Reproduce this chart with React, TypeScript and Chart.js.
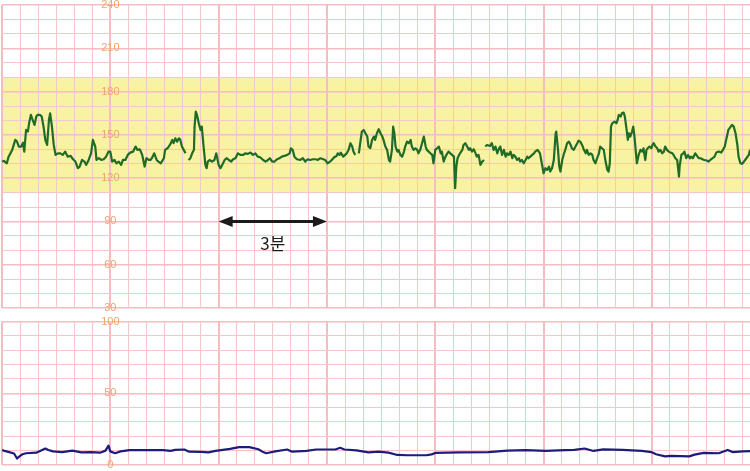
import { useEffect, useRef } from "react";
import { Chart, registerables } from "chart.js";

Chart.register(...registerables);

// ---- data (time in seconds) ----
const timeMax = 1243;

const fhrTrace: [number, number | null][] = [
  [0, 131.5], [3, 131.9], [8, 130.3], [11, 134.9], [17, 139.6], [22, 146.5], [25, 145.3], [28, 141.9], [32, 141.9], [35, 144.6],
  [37, 138.4], [40, 153.4], [43, 152.3], [45, 158.0], [48, 163.8], [51, 160.3], [54, 156.9], [57, 162.7], [59, 163.8], [63, 163.8],
  [66, 162.7], [69, 155.7], [72, 146.5], [75, 143.0], [78, 160.3], [80, 164.9], [83, 155.7], [86, 143.0], [89, 136.1], [93, 137.2],
  [97, 137.2], [101, 136.1], [105, 138.4], [109, 134.9], [114, 135.4], [118, 133.1], [122, 131.5], [126, 126.9], [129, 128.0], [133, 132.6],
  [137, 131.5], [140, 129.2], [144, 132.6], [148, 137.2], [151, 146.5], [155, 141.9], [157, 132.6], [161, 133.8], [165, 132.6], [169, 133.1],
  [173, 134.9], [177, 138.4], [180, 138.4], [183, 131.5], [187, 132.6], [190, 130.3], [194, 131.5], [198, 129.2], [201, 132.6], [205, 132.6],
  [209, 136.1], [213, 137.7], [218, 138.4], [222, 141.9], [225, 139.6], [229, 140.0], [233, 136.1], [237, 128.0], [240, 133.8], [244, 132.6],
  [247, 132.6], [249, 133.8], [253, 137.2], [257, 132.6], [260, 131.5], [264, 130.3], [269, 133.8], [271, 139.6], [275, 140.7], [279, 143.0],
  [283, 146.5], [285, 144.2], [288, 147.6], [291, 145.3], [294, 147.6], [296, 146.9], [299, 141.9], [302, 139.6], [305, 137.2], [307, null],
  [310, 132.6], [313, 133.8], [316, 137.2], [319, 139.6], [320, 155.7], [322, 166.1], [324, 163.8], [327, 158.0], [330, 153.4], [332, 155.7],
  [335, 141.9], [338, 129.2], [340, 126.9], [342, 131.5], [345, 132.6], [349, 131.5], [353, 132.6], [356, 137.2], [360, 129.2], [363, 126.9],
  [366, 129.2], [370, 132.6], [373, 133.8], [377, 132.6], [381, 131.5], [384, 133.1], [388, 133.8], [392, 137.2], [396, 136.1], [401, 136.1],
  [404, 137.2], [408, 136.8], [413, 137.7], [417, 136.1], [421, 137.2], [425, 134.9], [429, 134.5], [434, 132.6], [438, 131.5], [442, 132.6],
  [445, 133.8], [449, 131.5], [453, 131.5], [457, 133.1], [461, 133.8], [465, 134.9], [469, 135.4], [474, 136.1], [478, 137.2], [480, 140.7],
  [483, 139.6], [486, 134.9], [490, 133.1], [496, 132.6], [500, 133.8], [504, 131.5], [508, 133.1], [512, 132.6], [517, 133.1], [521, 133.1],
  [525, 132.6], [529, 133.8], [534, 133.1], [537, 132.6], [541, 130.3], [545, 131.5], [548, 132.6], [552, 134.5], [556, 135.4], [558, 137.2],
  [561, 136.1], [563, 137.7], [567, 134.9], [570, 136.1], [573, 137.2], [576, 139.6], [579, 144.2], [582, 141.9], [584, 138.4], [587, 136.1],
  [590, null], [593, 137.2], [596, 146.5], [598, 152.3], [601, 153.4], [604, 151.1], [607, 148.8], [609, 141.9], [612, 140.7], [615, 146.5],
  [618, 148.8], [620, 146.5], [623, 151.1], [626, 153.9], [629, 151.1], [632, 148.8], [634, 146.5], [637, 141.9], [640, 139.6], [643, 132.6],
  [645, 131.5], [648, 139.6], [650, 155.7], [652, 151.1], [654, 141.9], [657, 138.4], [659, 139.6], [662, 136.1], [665, 134.9], [668, 138.4],
  [670, 141.9], [673, 145.3], [676, 144.2], [679, 146.5], [681, 141.9], [684, 139.6], [687, 140.7], [690, 139.6], [692, 137.2], [695, 139.6],
  [698, 144.2], [701, 148.8], [704, 141.9], [706, 139.6], [709, 138.4], [712, 137.2], [715, 136.1], [717, 130.3], [720, 139.6], [723, 140.7],
  [726, 141.9], [729, 137.2], [731, 138.4], [734, 131.5], [737, 134.9], [740, 137.2], [742, 138.4], [745, 137.2], [748, 136.1], [751, 134.9],
  [753, 113.0], [755, 128.0], [757, 133.8], [761, 137.2], [765, 139.6], [767, 143.0], [770, 144.2], [773, 141.9], [776, 139.6], [778, 140.7],
  [781, 138.4], [784, 140.0], [787, 137.2], [789, 134.9], [792, 136.1], [795, 129.2], [798, 131.5], [801, 132.6], [802, null], [803, 141.9],
  [806, 143.0], [811, 142.3], [814, 144.2], [817, 139.6], [820, 141.9], [823, 137.2], [825, 139.6], [828, 141.9], [831, 136.1], [834, 139.6],
  [837, 134.9], [839, 137.2], [842, 136.1], [845, 138.4], [848, 133.8], [850, 136.1], [853, 134.9], [856, 132.6], [859, 133.8], [861, 131.5],
  [864, 132.6], [867, 130.3], [870, 132.6], [873, 134.9], [875, 133.8], [878, 134.9], [881, 136.1], [884, 137.2], [886, 138.4], [890, 139.6],
  [894, 137.2], [896, 132.6], [898, 128.0], [900, 123.4], [903, 126.9], [906, 125.7], [909, 128.0], [911, 124.6], [914, 126.9], [917, 132.6],
  [920, 151.1], [921, 152.3], [924, 139.6], [926, 128.0], [928, 124.6], [931, 132.6], [934, 137.2], [936, 139.6], [939, 144.2], [942, 145.3],
  [945, 143.0], [947, 140.7], [950, 139.6], [953, 141.9], [956, 144.2], [958, 146.0], [961, 145.3], [964, 143.0], [967, 139.6], [970, 137.2],
  [972, 139.6], [975, 136.1], [978, 137.2], [981, 136.1], [983, 132.6], [986, 130.3], [989, 133.8], [992, 137.2], [994, 141.9], [997, 140.7],
  [1000, 139.6], [1003, 131.5], [1006, 125.7], [1008, 124.6], [1010, 130.3], [1012, 155.7], [1014, 158.0], [1018, 159.2], [1021, 158.0], [1023, 160.3],
  [1025, 163.8], [1028, 162.7], [1030, 164.9], [1033, 165.4], [1035, 162.7], [1038, 153.4], [1040, 146.5], [1042, 151.1], [1044, 148.8], [1047, 152.3],
  [1049, 155.7], [1051, 148.8], [1053, 139.6], [1055, 130.3], [1058, 136.1], [1061, 139.6], [1064, 138.4], [1066, 140.7], [1069, 132.6], [1071, 139.6],
  [1073, 140.7], [1076, 141.9], [1079, 140.7], [1081, 143.0], [1083, 144.2], [1086, 141.9], [1089, 140.7], [1091, 138.4], [1094, 139.6], [1097, 137.2],
  [1100, 138.4], [1102, 141.9], [1105, 139.6], [1108, 138.4], [1111, 137.7], [1114, 137.2], [1116, 136.1], [1119, 133.8], [1122, 132.6], [1125, 121.1],
  [1126, 128.0], [1129, 136.1], [1132, 137.2], [1134, 138.4], [1137, 133.8], [1140, 136.1], [1143, 133.8], [1145, 134.9], [1148, 133.8], [1152, 137.2],
  [1155, 135.4], [1158, 133.8], [1161, 133.8], [1164, 133.1], [1167, 132.6], [1171, 132.2], [1174, 131.5], [1177, 132.6], [1181, 133.8], [1184, 134.9],
  [1187, 137.7], [1191, 138.4], [1195, 137.7], [1198, 139.6], [1201, 141.9], [1204, 147.6], [1207, 153.4], [1211, 155.7], [1213, 156.9], [1216, 155.7],
  [1219, 151.1], [1222, 143.0], [1224, 134.9], [1227, 130.3], [1230, 129.9], [1233, 131.5], [1237, 133.8], [1241, 136.1], [1243, 139.6],
];

const tocoTrace: [number, number][] = [
  [0, 10.5], [4, 9.8], [9, 9.3], [20, 8], [25, 4.5], [29, 6], [34, 7.5], [40, 8.2], [57, 8.6], [72, 11.5],
  [77, 10.5], [85, 9.5], [100, 9], [117, 10], [132, 8.8], [148, 9], [163, 8.6], [172, 10], [177, 13.5], [180, 9.5],
  [188, 8.2], [197, 9.5], [212, 10.4], [237, 10.4], [268, 10.4], [280, 9.8], [288, 10.5], [303, 10.8], [311, 9.3], [331, 9.2],
  [343, 8.8], [355, 9.8], [379, 11.2], [394, 12.5], [411, 12.5], [426, 11], [434, 9], [439, 8.2], [454, 9.5], [474, 10.8],
  [482, 9.3], [506, 9.8], [522, 10.8], [554, 10.8], [562, 12], [569, 10.8], [589, 10.2], [609, 8.8], [626, 9.3], [642, 8.6],
  [657, 7], [674, 6.8], [705, 6.8], [714, 7.4], [720, 8.4], [760, 8.8], [808, 9], [840, 10], [871, 10.4], [903, 9.8],
  [936, 10.4], [951, 10.5], [968, 11.5], [983, 9.8], [999, 10.9], [1031, 10.5], [1063, 9.8], [1079, 9], [1087, 7.5], [1102, 6],
  [1111, 6.4], [1142, 6], [1151, 7.2], [1166, 8.4], [1191, 8.2], [1206, 10.5], [1214, 9], [1231, 9.5], [1243, 9.6],
];

const fhrAxisLabels = [240, 210, 180, 150, 120, 90, 60, 30];
const tocoAxisLabels = [100, 50, 0];
const fhrRange = [30, 240];
const tocoRange = [0, 100];
const normalBand = [110, 190];
const labelAtTime = 180;
const spanArrow = { from: 360, to: 540, at: 90, textAt: 75, text: "3분" };

// ---- styles ----
const GRID_MINOR = "#f7c6cb";
const GRID_MAJOR = "#f5bcc2";
const LABEL_COLOR = "#f0a36c";
const BAND_COLOR = "#f8f3a2";

function gridTicks(min: number, max: number, step: number) {
  const out: { value: number }[] = [];
  for (let v = min; v <= max + 1e-9; v += step) out.push({ value: v });
  return out;
}

function makeOptions(yMin: number, yMax: number, yMajor: number, padding: any) {
  return {
    responsive: false,
    animation: false,
    events: [],
    layout: { padding },
    plugins: { legend: { display: false }, tooltip: { enabled: false } },
    scales: {
      x: {
        type: "linear",
        min: 0,
        max: timeMax,
        afterBuildTicks: (s: any) => { s.ticks = gridTicks(0, timeMax, 30); },
        ticks: { display: false },
        border: { display: false },
        grid: {
          drawTicks: false,
          color: (c: any) => (c.tick && c.tick.value % 180 === 0 ? GRID_MAJOR : GRID_MINOR),
          lineWidth: (c: any) => (c.tick && c.tick.value % 180 === 0 ? 2 : 1),
        },
      },
      y: {
        type: "linear",
        min: yMin,
        max: yMax,
        afterBuildTicks: (s: any) => { s.ticks = gridTicks(yMin, yMax, 10); },
        ticks: { display: false },
        border: { display: false },
        grid: {
          drawTicks: false,
          color: (c: any) => (c.tick && c.tick.value % yMajor === 0 ? GRID_MAJOR : GRID_MINOR),
          lineWidth: (c: any) => (c.tick && c.tick.value % yMajor === 0 ? 1.5 : 1),
        },
      },
    },
  } as any;
}

function labelsPlugin(labels: number[]) {
  return {
    id: "axisLabels",
    beforeDatasetsDraw(chart: any) {
      const { ctx, scales } = chart;
      ctx.save();
      ctx.fillStyle = LABEL_COLOR;
      ctx.font = "11px 'Liberation Sans', Arial, sans-serif";
      ctx.textAlign = "center";
      ctx.textBaseline = "middle";
      const px = scales.x.getPixelForValue(labelAtTime);
      labels.forEach((v) => ctx.fillText(String(v), px, scales.y.getPixelForValue(v)));
      ctx.restore();
    },
  };
}

const bandPlugin = {
  id: "band",
  beforeDraw(chart: any) {
    const { ctx, chartArea, scales } = chart;
    const top = scales.y.getPixelForValue(normalBand[1]);
    const bottom = scales.y.getPixelForValue(normalBand[0]);
    ctx.save();
    ctx.fillStyle = BAND_COLOR;
    ctx.fillRect(chartArea.left, top, chartArea.right - chartArea.left, bottom - top);
    ctx.restore();
  },
};

const arrowPlugin = {
  id: "spanArrow",
  afterDatasetsDraw(chart: any) {
    const { ctx, scales } = chart;
    const x1 = scales.x.getPixelForValue(spanArrow.from);
    const x2 = scales.x.getPixelForValue(spanArrow.to);
    const y = scales.y.getPixelForValue(spanArrow.at);
    const head = 14;
    const half = 5.5;
    ctx.save();
    ctx.strokeStyle = "#1b1b1b";
    ctx.fillStyle = "#1b1b1b";
    ctx.lineWidth = 3;
    ctx.beginPath();
    ctx.moveTo(x1 + head - 2, y);
    ctx.lineTo(x2 - head + 2, y);
    ctx.stroke();
    ctx.beginPath();
    ctx.moveTo(x1, y);
    ctx.lineTo(x1 + head, y - half);
    ctx.lineTo(x1 + head, y + half);
    ctx.closePath();
    ctx.fill();
    ctx.beginPath();
    ctx.moveTo(x2, y);
    ctx.lineTo(x2 - head, y - half);
    ctx.lineTo(x2 - head, y + half);
    ctx.closePath();
    ctx.fill();
    ctx.font = "17px 'Noto Sans CJK KR', sans-serif";
    ctx.textAlign = "center";
    ctx.textBaseline = "middle";
    ctx.fillText(spanArrow.text, (x1 + x2) / 2, scales.y.getPixelForValue(spanArrow.textAt));
    ctx.restore();
  },
};

export default function App() {
  const topRef = useRef<HTMLCanvasElement>(null);
  const bottomRef = useRef<HTMLCanvasElement>(null);

  useEffect(() => {
    document.body.style.margin = "0";
    const top = new Chart(topRef.current!, {
      type: "line",
      data: {
        datasets: [
          {
            data: fhrTrace.map(([x, y]) => ({ x, y })),
            borderColor: "#1f6b28",
            borderWidth: 2.2,
            pointRadius: 0,
            spanGaps: false,
            tension: 0,
            borderJoinStyle: "round",
          },
        ],
      },
      options: makeOptions(fhrRange[0], fhrRange[1], 30, { top: 5, bottom: 6, left: 2, right: 0 }),
      plugins: [bandPlugin, labelsPlugin(fhrAxisLabels), arrowPlugin],
    } as any);

    const bottom = new Chart(bottomRef.current!, {
      type: "line",
      data: {
        datasets: [
          {
            data: tocoTrace.map(([x, y]) => ({ x, y })),
            borderColor: "#1d1c7a",
            borderWidth: 2.2,
            pointRadius: 0,
            tension: 0,
            borderJoinStyle: "round",
          },
        ],
      },
      options: makeOptions(tocoRange[0], tocoRange[1], 50, { top: 7.5, bottom: 6, left: 2, right: 0 }),
      plugins: [labelsPlugin(tocoAxisLabels)],
    } as any);

    return () => {
      top.destroy();
      bottom.destroy();
    };
  }, []);

  return (
    <div style={{ width: 750, height: 471, position: "relative", background: "#fff" }}>
      <canvas ref={topRef} width={750} height={314} style={{ display: "block", width: 750, height: 314 }} />
      <canvas ref={bottomRef} width={750} height={157} style={{ display: "block", width: 750, height: 157 }} />
    </div>
  );
}
